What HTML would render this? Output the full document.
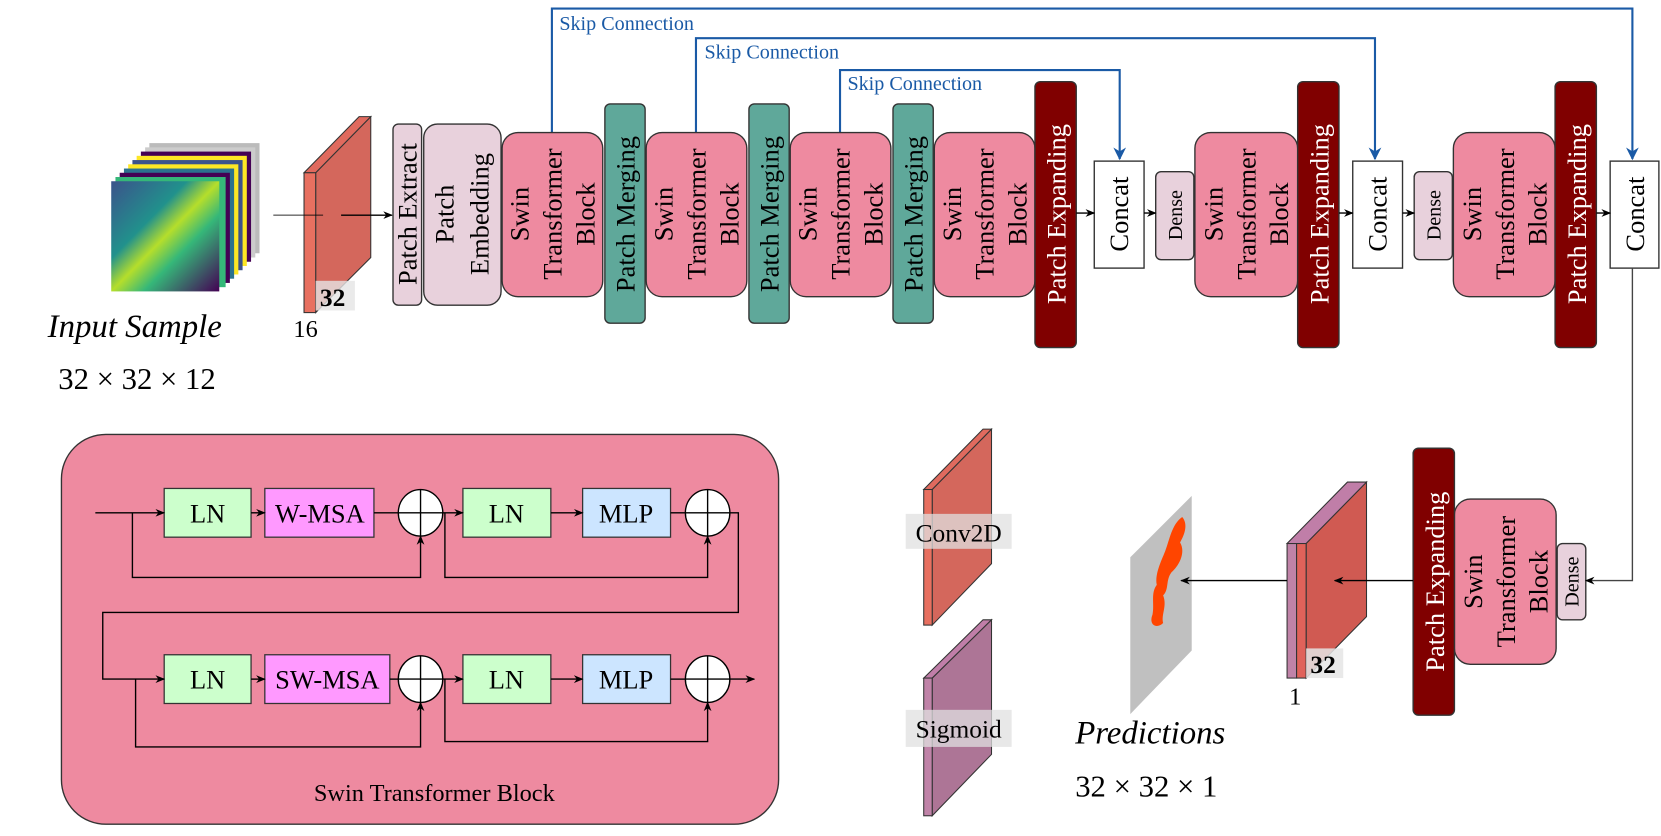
<!DOCTYPE html>
<html><head><meta charset="utf-8"><style>
html,body{margin:0;padding:0;background:#fff;width:1661px;height:836px;overflow:hidden}
svg{display:block}
svg text{font-family:"Liberation Serif","DejaVu Serif",serif}
</style></head><body>
<svg width="1661" height="836" viewBox="0 0 1568 789" xmlns="http://www.w3.org/2000/svg" font-family="Liberation Serif, serif">
<defs>
<marker id="a" viewBox="0 0 10 10" refX="9" refY="5" markerWidth="7" markerHeight="7" orient="auto"><path d="M0,1 L10,5 L0,9 L3,5z" fill="#000"/></marker>
<marker id="b" viewBox="0 0 10 10" refX="9" refY="5" markerWidth="6" markerHeight="7" orient="auto"><path d="M0,0 L10,5 L0,10 L3,5z" fill="#1a5aa6"/></marker>
<linearGradient id="v" x1="0" y1="0" x2="1" y2="1"><stop offset="0" stop-color="#3b528b"/><stop offset="0.35" stop-color="#21918c"/><stop offset="0.5" stop-color="#b5de2b"/><stop offset="0.65" stop-color="#35b779"/><stop offset="1" stop-color="#440154"/></linearGradient>
</defs>

<!-- skip connections -->
<g fill="none" stroke="#1a5aa6" stroke-width="2">
<path d="M521,125 V8 H1541 V150" marker-end="url(#b)"/>
<path d="M657,125 V36 H1298 V150" marker-end="url(#b)"/>
<path d="M793,125 V66 H1057 V150" marker-end="url(#b)"/>
</g>
<g fill="#1a5aa6" font-size="19">
<text x="528" y="28">Skip Connection</text>
<text x="665" y="55">Skip Connection</text>
<text x="800" y="85">Skip Connection</text>
</g>

<!-- input stack -->
<g stroke="none">
<rect x="141" y="135" width="104" height="104" fill="#bbb"/>
<rect x="137" y="139" width="104" height="104" fill="#ccc"/>
<rect x="133" y="143" width="104" height="104" fill="#440154"/>
<rect x="129" y="147" width="104" height="104" fill="#fde725"/>
<rect x="125" y="151" width="104" height="104" fill="#3b528b"/>
<rect x="121" y="155" width="104" height="104" fill="#fde725"/>
<rect x="117" y="159" width="104" height="104" fill="#2c728e"/>
<rect x="113" y="163" width="104" height="104" fill="#440154"/>
<rect x="109" y="167" width="104" height="104" fill="#35b779"/>
<rect x="105" y="171" width="102" height="104" fill="url(#v)"/>
</g>

<!-- input slab -->
<g stroke="#333" stroke-width="1">
<polygon points="298,163 350,110 350,243 298,295" fill="#d4675c"/>
<polygon points="287,163 298,163 350,110 339,110" fill="#e06a5e"/>
<rect x="287" y="163" width="11" height="132" fill="#e87060"/>
</g>
<rect x="298" y="265" width="37" height="28" fill="#e5e5e5" opacity="0.8"/>
<text x="302" y="289" font-size="24" font-weight="bold">32</text>
<text x="277" y="318" font-size="23">16</text>

<text x="45" y="318" font-size="31" font-style="italic">Input Sample</text>
<text x="55" y="367" font-size="29">32 × 32 × 12</text>

<!-- encoder boxes -->
<g stroke="#333" stroke-width="1.3">
<rect x="371" y="117" width="27" height="171" rx="5" fill="#e8d1dc"/>
<rect x="400" y="117" width="73" height="171" rx="13" fill="#e8d1dc"/>
<rect x="474" y="125" width="95" height="155" rx="15" fill="#ee8aa0"/>
<rect x="571" y="98" width="38" height="207" rx="5" fill="#5fa89a"/>
<rect x="610" y="125" width="95" height="155" rx="15" fill="#ee8aa0"/>
<rect x="707" y="98" width="38" height="207" rx="5" fill="#5fa89a"/>
<rect x="746" y="125" width="95" height="155" rx="15" fill="#ee8aa0"/>
<rect x="843" y="98" width="38" height="207" rx="5" fill="#5fa89a"/>
<rect x="882" y="125" width="95" height="155" rx="15" fill="#ee8aa0"/>
<rect x="977" y="77" width="39" height="251" rx="5" fill="#800000"/>
<rect x="1033" y="152" width="47" height="101" fill="#fff"/>
<rect x="1091" y="162" width="36" height="83" rx="5" fill="#e8d1dc"/>
<rect x="1128" y="125" width="97" height="155" rx="15" fill="#ee8aa0"/>
<rect x="1225" y="77" width="39" height="251" rx="5" fill="#800000"/>
<rect x="1277" y="152" width="47" height="101" fill="#fff"/>
<rect x="1335" y="162" width="36" height="83" rx="5" fill="#e8d1dc"/>
<rect x="1372" y="125" width="96" height="155" rx="15" fill="#ee8aa0"/>
<rect x="1468" y="77" width="39" height="251" rx="5" fill="#800000"/>
<rect x="1520" y="152" width="46" height="101" fill="#fff"/>
<rect x="1470" y="513" width="27" height="72" rx="5" fill="#e8d1dc"/>
<rect x="1373" y="471" width="96" height="156" rx="15" fill="#ee8aa0"/>
<rect x="1334" y="423" width="39" height="252" rx="5" fill="#800000"/>
</g>

<!-- vertical labels -->
<g font-size="25" text-anchor="middle">
<text transform="translate(393,202) rotate(-90)">Patch Extract</text>
<text transform="translate(436,202) rotate(-90)"><tspan x="0" y="-8">Patch</tspan><tspan x="0" y="25">Embedding</tspan></text>
<text transform="translate(521,202) rotate(-90)"><tspan x="0" y="-22">Swin</tspan><tspan x="0" y="9">Transformer</tspan><tspan x="0" y="40">Block</tspan></text>
<text transform="translate(657,202) rotate(-90)"><tspan x="0" y="-22">Swin</tspan><tspan x="0" y="9">Transformer</tspan><tspan x="0" y="40">Block</tspan></text>
<text transform="translate(793,202) rotate(-90)"><tspan x="0" y="-22">Swin</tspan><tspan x="0" y="9">Transformer</tspan><tspan x="0" y="40">Block</tspan></text>
<text transform="translate(929,202) rotate(-90)"><tspan x="0" y="-22">Swin</tspan><tspan x="0" y="9">Transformer</tspan><tspan x="0" y="40">Block</tspan></text>
<text transform="translate(1176,202) rotate(-90)"><tspan x="0" y="-22">Swin</tspan><tspan x="0" y="9">Transformer</tspan><tspan x="0" y="40">Block</tspan></text>
<text transform="translate(1420,202) rotate(-90)"><tspan x="0" y="-22">Swin</tspan><tspan x="0" y="9">Transformer</tspan><tspan x="0" y="40">Block</tspan></text>
<text transform="translate(1421,549) rotate(-90)"><tspan x="0" y="-22">Swin</tspan><tspan x="0" y="9">Transformer</tspan><tspan x="0" y="40">Block</tspan></text>
<text transform="translate(599,202) rotate(-90)">Patch Merging</text>
<text transform="translate(735,202) rotate(-90)">Patch Merging</text>
<text transform="translate(871,202) rotate(-90)">Patch Merging</text>
<text transform="translate(1065,202) rotate(-90)">Concat</text>
<text transform="translate(1309,202) rotate(-90)">Concat</text>
<text transform="translate(1552,202) rotate(-90)">Concat</text>
<g fill="#fff">
<text transform="translate(1006,202) rotate(-90)">Patch Expanding</text>
<text transform="translate(1254,202) rotate(-90)">Patch Expanding</text>
<text transform="translate(1497,202) rotate(-90)">Patch Expanding</text>
<text transform="translate(1363,549) rotate(-90)">Patch Expanding</text>
</g>
</g>
<g font-size="19" text-anchor="middle">
<text transform="translate(1116,203) rotate(-90)">Dense</text>
<text transform="translate(1360,203) rotate(-90)">Dense</text>
<text transform="translate(1490,549) rotate(-90)">Dense</text>
</g>

<!-- output slab -->
<g stroke="#333" stroke-width="1">
<polygon points="1233,513 1290,455 1290,582 1233,640" fill="#d05a52"/>
<polygon points="1215,513 1233,513 1290,455 1272,455" fill="#c07ea8"/>
<rect x="1215" y="513" width="9" height="127" fill="#c083a8"/>
<rect x="1224" y="513" width="9" height="127" fill="#e0625a"/>
</g>
<rect x="1233" y="612" width="35" height="28" fill="#e5e5e5" opacity="0.85"/>
<text x="1237" y="635" font-size="24" font-weight="bold">32</text>
<text x="1217" y="665" font-size="23">1</text>

<!-- prediction -->
<polygon points="1067,526 1125,468 1125,614 1067,674" fill="#c0c0c0"/>
<path d="M1116,488 C1122,495 1118,505 1114,512 C1120,522 1112,535 1106,540 C1100,548 1104,556 1098,562 C1102,572 1096,580 1098,588 C1092,594 1084,590 1088,580 C1090,570 1086,560 1092,552 C1090,542 1096,530 1100,520 C1104,510 1106,495 1116,488z" fill="#ff4500"/>
<text x="1015" y="702" font-size="31" font-style="italic">Predictions</text>
<text x="1015" y="752" font-size="29">32 × 32 × 1</text>

<!-- connectors (on top) -->
<g stroke="#000" stroke-width="1.3" fill="none">
<line x1="258" y1="203" x2="305" y2="203" stroke-opacity="0.6"/>
<line x1="322" y1="203" x2="370" y2="203" marker-end="url(#a)"/>
<line x1="1016" y1="201" x2="1033" y2="201" marker-end="url(#a)"/>
<line x1="1080" y1="201" x2="1091" y2="201" marker-end="url(#a)"/>
<line x1="1264" y1="201" x2="1277" y2="201" marker-end="url(#a)"/>
<line x1="1324" y1="201" x2="1335" y2="201" marker-end="url(#a)"/>
<line x1="1507" y1="201" x2="1520" y2="201" marker-end="url(#a)"/>
<path d="M1541,253 V548 H1497" marker-end="url(#a)" stroke="#444"/>
<line x1="1334" y1="548" x2="1260" y2="548" marker-end="url(#a)"/>
<line x1="1215" y1="548" x2="1115" y2="548" marker-end="url(#a)"/>
</g>

<!-- legend -->
<g stroke="#333" stroke-width="1">
<polygon points="880,462 936,405 936,532 880,590" fill="#d4675c"/>
<polygon points="872,462 880,462 936,405 928,405" fill="#e06a5e"/>
<rect x="872" y="462" width="8" height="128" fill="#e87060"/>
<polygon points="880,640 936,585 936,712 880,770" fill="#ad7596"/>
<polygon points="872,640 880,640 936,585 928,585" fill="#c07ea8"/>
<rect x="872" y="640" width="8" height="130" fill="#c083a8"/>
</g>
<rect x="855" y="485" width="100" height="33" fill="#e0e0e0" opacity="0.75"/>
<text x="905" y="511" font-size="24" text-anchor="middle">Conv2D</text>
<rect x="855" y="670" width="100" height="35" fill="#e0e0e0" opacity="0.75"/>
<text x="905" y="696" font-size="24" text-anchor="middle">Sigmoid</text>

<!-- Swin block detail -->
<rect x="58" y="410" width="677" height="368" rx="42" fill="#ee8aa0" stroke="#333" stroke-width="1.3"/>
<g stroke="#333" stroke-width="1.2">
<rect x="155" y="461" width="82" height="46" fill="#ccffcc"/>
<rect x="250" y="461" width="103" height="46" fill="#ff99ff"/>
<rect x="437" y="461" width="83" height="46" fill="#ccffcc"/>
<rect x="550" y="461" width="83" height="46" fill="#cce5ff"/>
<rect x="155" y="618" width="82" height="46" fill="#ccffcc"/>
<rect x="250" y="618" width="118" height="46" fill="#ff99ff"/>
<rect x="437" y="618" width="83" height="46" fill="#ccffcc"/>
<rect x="550" y="618" width="83" height="46" fill="#cce5ff"/>
</g>
<g stroke="#000" stroke-width="1.3" fill="none">
<line x1="90" y1="484" x2="155" y2="484" marker-end="url(#a)"/>
<line x1="237" y1="484" x2="250" y2="484" marker-end="url(#a)"/>
<line x1="353" y1="484" x2="376" y2="484"/>
<line x1="418" y1="484" x2="437" y2="484" marker-end="url(#a)"/>
<line x1="520" y1="484" x2="550" y2="484" marker-end="url(#a)"/>
<line x1="633" y1="484" x2="647" y2="484"/>
<path d="M125,484 V545 H397 V506" marker-end="url(#a)"/>
<path d="M420,484 V545 H668 V506" marker-end="url(#a)"/>
<path d="M689,484 H697 V578 H97 V641 H155" marker-end="url(#a)"/>
<line x1="237" y1="641" x2="250" y2="641" marker-end="url(#a)"/>
<line x1="368" y1="641" x2="376" y2="641"/>
<line x1="418" y1="641" x2="437" y2="641" marker-end="url(#a)"/>
<line x1="520" y1="641" x2="550" y2="641" marker-end="url(#a)"/>
<line x1="633" y1="641" x2="647" y2="641"/>
<line x1="689" y1="641" x2="712" y2="641" marker-end="url(#a)"/>
<path d="M128,641 V705 H397 V663" marker-end="url(#a)"/>
<path d="M420,641 V700 H668 V663" marker-end="url(#a)"/>
</g>
<g stroke="#000" stroke-width="1.3" fill="#fff">
<ellipse cx="397" cy="484" rx="21" ry="22"/>
<ellipse cx="668" cy="484" rx="21" ry="22"/>
<ellipse cx="397" cy="641" rx="21" ry="22"/>
<ellipse cx="668" cy="641" rx="21" ry="22"/>
</g>
<g stroke="#000" stroke-width="1.3">
<path d="M376,484 H418 M397,462 V506"/>
<path d="M647,484 H689 M668,462 V506"/>
<path d="M376,641 H418 M397,619 V663"/>
<path d="M647,641 H689 M668,619 V663"/>
</g>
<g font-size="25" text-anchor="middle">
<text x="196" y="493">LN</text>
<text x="302" y="493">W-MSA</text>
<text x="478" y="493">LN</text>
<text x="591" y="493">MLP</text>
<text x="196" y="650">LN</text>
<text x="309" y="650">SW-MSA</text>
<text x="478" y="650">LN</text>
<text x="591" y="650">MLP</text>
<text x="410" y="756" font-size="23">Swin Transformer Block</text>
</g>
</svg>
</body></html>
